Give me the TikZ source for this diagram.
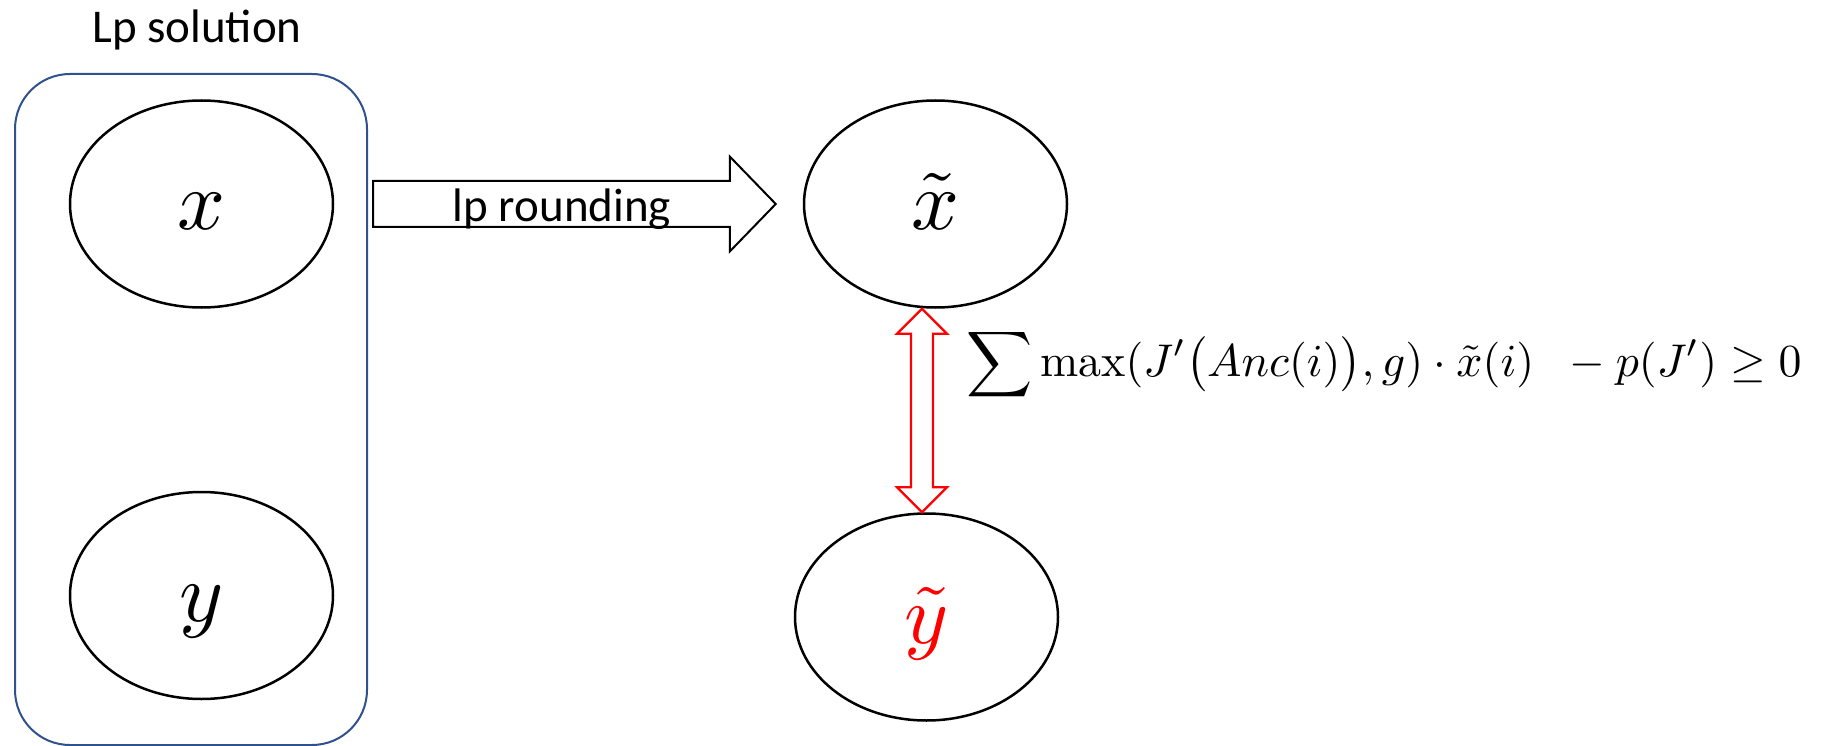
\documentclass[tikz,border=0pt]{standalone}
\usepackage{amsmath}
\usepackage{graphicx}
\usepackage{fontspec}
\newfontfamily\calib{Carlito}
\usetikzlibrary{shapes.geometric,calc}
\definecolor{boxblue}{HTML}{2F528F}
\definecolor{pptred}{HTML}{FF0000}
\newcommand{\hugeletter}[1]{\scalebox{8.4}{$#1$}}
\tikzset{
  blob/.style={ellipse, draw, line width=2.5pt, minimum width=263pt, minimum height=207pt,
    inner sep=0pt, text height=52pt, text depth=0pt},
  container/.style={draw=boxblue, line width=2pt, rounded corners=55pt, inner sep=0pt},
  lbl/.style={font=\calib\fontsize{47}{47}\selectfont, inner sep=0pt},
  blockarrow/.style={draw=black, fill=white, line width=2pt, line join=miter},
  redarrow/.style={draw=pptred, fill=white, line width=2.2pt, line join=miter},
}
\begin{document}
\begin{tikzpicture}[x=1pt,y=-1pt]
\useasboundingbox (0,0) rectangle (1824,746);
\node[container, minimum width=352pt, minimum height=671pt] (lp) at (191,409.5) {};
\node[lbl, anchor=base] (lptitle) at (197,43) {Lp solution};
\node[blob] (x) at (201.5,204) {\hugeletter{x}};
\node[blob] (y) at (201.5,595.5) {\hugeletter{y}};
\node[blob] (xt) at (935.5,204) {\hugeletter{\tilde{x}}};
\node[blob, text=pptred] (yt) at (926.5,617) {\hugeletter{\tilde{y}}};
% block arrow lp rounding
\coordinate (a0) at ($(lp.east |- x.east)+(5,0)$);
\coordinate (a1) at ($(xt.west)+(-27,0)$);
\draw[blockarrow] ($(a0)+(0,-23)$) -- ($(a1)+(-46,-23)$) -- ($(a1)+(-46,-47.5)$) -- (a1)
  -- ($(a1)+(-46,47.5)$) -- ($(a1)+(-46,23)$) -- ($(a0)+(0,23)$) -- cycle;
\node[lbl, anchor=base] (rl) at (562,222) {lp rounding};
% red double arrow
\coordinate (rt) at ($(xt.south)+(-13.5,0)$);
\coordinate (rb) at ($(yt.north)+(-4.5,0)$);
\draw[redarrow] (rt) -- ++(25,25) -- ++(-14,0) -- ($(rb)+(11,-25)$) -- ++(14,0) -- (rb)
  -- ++(-25,-25) -- ++(14,0) -- ($(rt)+(-11,25)$) -- ++(-14,0) -- cycle;
\node[anchor=base west, inner sep=0pt] (f) at (966,376)
  {\resizebox{835pt}{!}{$\displaystyle\sum \max(J'\big(Anc(i)\big), g)\cdot\tilde{x}(i)\;\; -p(J')\geq 0$}};
\end{tikzpicture}
\end{document}
